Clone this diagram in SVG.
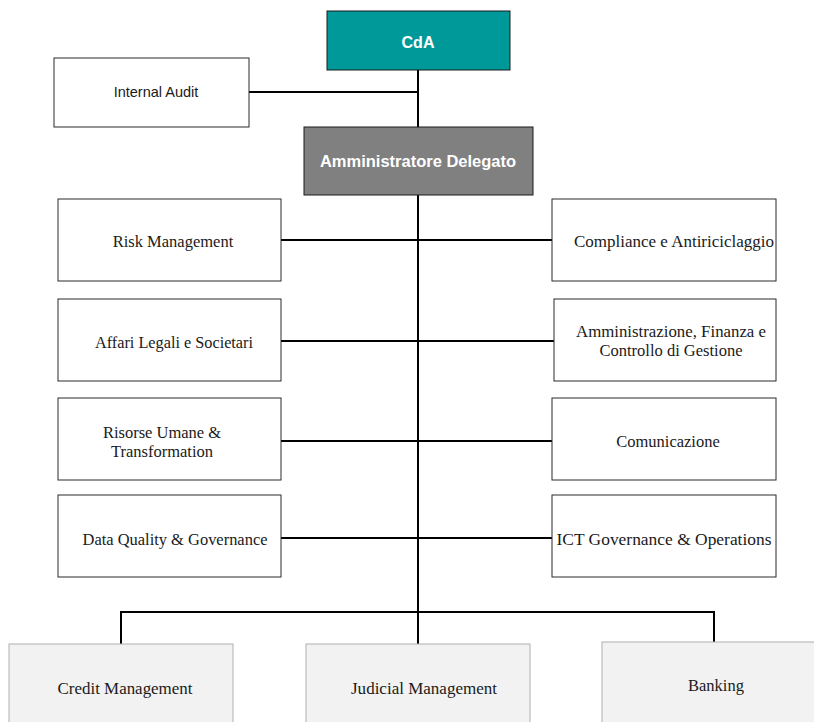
<svg xmlns="http://www.w3.org/2000/svg" width="814" height="722" viewBox="0 0 814 722">
  <style>
    .box { fill: #ffffff; stroke: #2b2b2b; stroke-width: 1; }
    .unit { fill: #f2f2f2; stroke: #b0b0b0; stroke-width: 1; }
    .conn { fill: none; stroke: #000000; stroke-width: 2; }
    .serif { font-family: "Liberation Serif", "Times New Roman", serif; font-size: 16.5px; fill: #1a1a1a; text-anchor: middle; }
    .sans { font-family: "Liberation Sans", Arial, sans-serif; font-size: 14.5px; fill: #1a1a1a; text-anchor: middle; }
    .head { font-family: "Liberation Sans", Arial, sans-serif; font-weight: bold; fill: #ffffff; text-anchor: middle; }
  </style>

  <rect width="814" height="722" fill="#ffffff"/>

  <!-- connectors -->
  <g id="connectors">
    <line class="conn" x1="418" y1="70" x2="418" y2="127"/>
    <line class="conn" x1="249" y1="92" x2="418" y2="92"/>
    <line class="conn" x1="418" y1="195" x2="418" y2="644"/>
    <line class="conn" x1="281" y1="240" x2="552" y2="240"/>
    <line class="conn" x1="281" y1="341" x2="554" y2="341"/>
    <line class="conn" x1="281" y1="441" x2="552" y2="441"/>
    <line class="conn" x1="281" y1="538" x2="552" y2="538"/>
    <polyline class="conn" points="121,644 121,612 714,612 714,642"/>
  </g>

  <g id="cda">
    <rect x="327" y="11" width="183" height="59" fill="#009999" stroke="#1a1a1a" stroke-width="1"/>
    <text class="head" x="418" y="48" font-size="16">CdA</text>
  </g>

  <g id="internal-audit">
    <rect class="box" x="54" y="58" width="195" height="69"/>
    <text class="sans" x="156" y="97">Internal  Audit</text>
  </g>

  <g id="amministratore-delegato">
    <rect x="304" y="127" width="229" height="68" fill="#808080" stroke="#1a1a1a" stroke-width="1"/>
    <text class="head" x="418" y="167" font-size="16.5">Amministratore Delegato</text>
  </g>

  <g id="risk-management">
    <rect class="box" x="58" y="199" width="223" height="82"/>
    <text class="serif" x="173" y="247">Risk Management</text>
  </g>

  <g id="compliance">
    <rect class="box" x="552" y="199" width="224" height="82"/>
    <text class="serif" x="674" y="247" textLength="200" lengthAdjust="spacingAndGlyphs">Compliance e Antiriciclaggio</text>
  </g>

  <g id="affari-legali">
    <rect class="box" x="58" y="299" width="223" height="82"/>
    <text class="serif" x="174" y="348" textLength="158" lengthAdjust="spacingAndGlyphs">Affari Legali e Societari</text>
  </g>

  <g id="amministrazione">
    <rect class="box" x="554" y="299" width="222" height="82"/>
    <text class="serif" x="671" y="337" textLength="190" lengthAdjust="spacingAndGlyphs">Amministrazione, Finanza e</text>
    <text class="serif" x="671" y="356">Controllo di Gestione</text>
  </g>

  <g id="risorse-umane">
    <rect class="box" x="58" y="398" width="223" height="82"/>
    <text class="serif" x="162" y="438">Risorse Umane &amp;</text>
    <text class="serif" x="162" y="457">Transformation</text>
  </g>

  <g id="comunicazione">
    <rect class="box" x="552" y="398" width="224" height="82"/>
    <text class="serif" x="668" y="447">Comunicazione</text>
  </g>

  <g id="data-quality">
    <rect class="box" x="58" y="495" width="223" height="82"/>
    <text class="serif" x="175" y="545" textLength="185" lengthAdjust="spacingAndGlyphs">Data Quality &amp; Governance</text>
  </g>

  <g id="ict-governance">
    <rect class="box" x="552" y="495" width="224" height="82"/>
    <text class="serif" x="664" y="545" textLength="215" lengthAdjust="spacingAndGlyphs">ICT Governance &amp; Operations</text>
  </g>

  <g id="credit-management">
    <rect class="unit" x="9" y="644" width="224" height="80"/>
    <text class="serif" x="125" y="694" textLength="135" lengthAdjust="spacingAndGlyphs">Credit Management</text>
  </g>

  <g id="judicial-management">
    <rect class="unit" x="306" y="644" width="224" height="80"/>
    <text class="serif" x="424" y="694" textLength="146" lengthAdjust="spacingAndGlyphs">Judicial  Management</text>
  </g>

  <g id="banking">
    <rect class="unit" x="602" y="642" width="214" height="82"/>
    <text class="serif" x="716" y="691">Banking</text>
  </g>
</svg>
